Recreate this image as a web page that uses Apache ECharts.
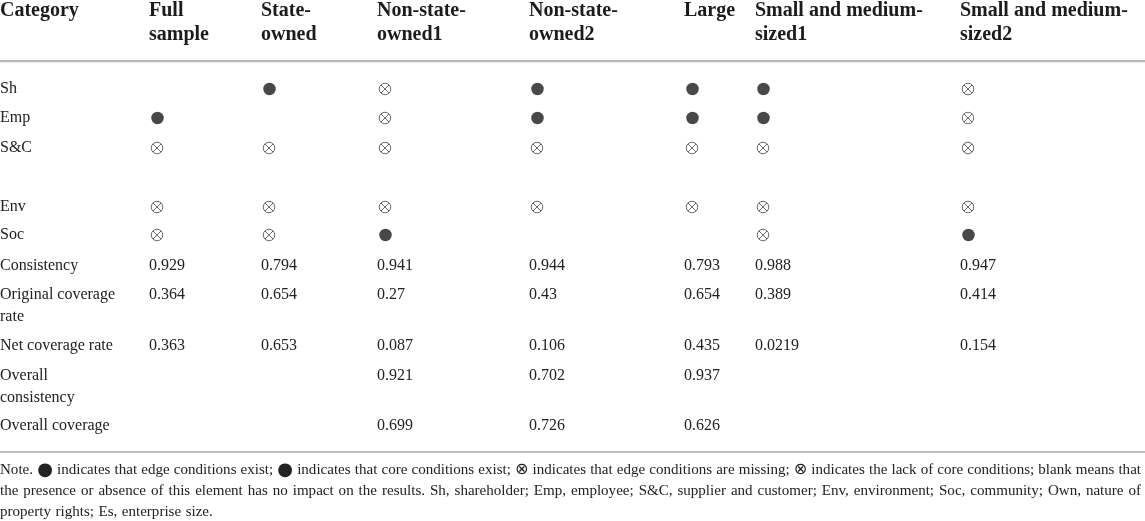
<!DOCTYPE html>
<html>
<head>
<meta charset="utf-8">
<script src="https://cdn.jsdelivr.net/npm/echarts@6/dist/echarts.min.js"></script>
<style>
  html, body { margin: 0; padding: 0; background: #fff; }
  #main { width: 1145px; height: 521px; }
</style>
</head>
<body>
<div id="main"></div>
<script>
var chart = echarts.init(document.getElementById('main'));

// table content
var headers = ['Category', 'Full\nsample', 'State-\nowned', 'Non-state-\nowned1', 'Non-state-\nowned2', 'Large', 'Small and medium-\nsized1', 'Small and medium-\nsized2'];
var rowNames = ['Sh', 'Emp', 'S&C', 'Env', 'Soc', 'Consistency', 'Original coverage\nrate', 'Net coverage rate', 'Overall\nconsistency', 'Overall coverage'];

// C = core condition exists, X = condition missing, '' = no impact
var Sh  = ['',  'C', 'X', 'C', 'C', 'C', 'X'];
var Emp = ['C', '',  'X', 'C', 'C', 'C', 'X'];
var SC  = ['X', 'X', 'X', 'X', 'X', 'X', 'X'];
var Env = ['X', 'X', 'X', 'X', 'X', 'X', 'X'];
var Soc = ['X', 'X', 'C', '',  '',  'X', 'C'];

var consistency = [0.929, 0.794, 0.941, 0.944, 0.793, 0.988, 0.947];
var originalCoverage = [0.364, 0.654, 0.27, 0.43, 0.654, 0.389, 0.414];
var netCoverage = [0.363, 0.653, 0.087, 0.106, 0.435, 0.0219, 0.154];
var overallConsistency = [null, null, 0.921, 0.702, 0.937, null, null];
var overallCoverage = [null, null, 0.699, 0.726, 0.626, null, null];

var noteLines = [
  'Note. \u25CF indicates that edge conditions exist; \u25CF indicates that core conditions exist; \u2297 indicates that edge conditions are missing; \u2297 indicates the lack of core conditions; blank means that',
  'the presence or absence of this element has no impact on the results. Sh, shareholder; Emp, employee; S&C, supplier and customer; Env, environment; Soc, community; Own, nature of',
  'property rights; Es, enterprise size.'
];

// layout (pixels)
var colX = [0, 149, 261, 377, 529, 684, 755, 960];
var rowMid = [89, 118, 148, 207, 235, 266, 295, 346, 376, 426];
var FONT = "'Liberation Serif', 'DejaVu Serif', serif";
var ink = '#222';

var condRows = [Sh, Emp, SC, Env, Soc];
var numRows = [consistency, originalCoverage, netCoverage, overallConsistency, overallCoverage];

var coreDots = [], missDots = [];
condRows.forEach(function (row, r) {
  row.forEach(function (v, c) {
    if (v === 'C') coreDots.push([c + 1, r]);
    if (v === 'X') missDots.push([c + 1, r]);
  });
});

var bodyText = [];
rowNames.forEach(function (name, r) { bodyText.push([0, r, name]); });
numRows.forEach(function (row, i) {
  row.forEach(function (v, c) {
    if (v != null) bodyText.push([c + 1, i + 5, String(v)]);
  });
});
var headText = headers.map(function (h, c) { return [c, -1, h]; });

// justified note text, font fitted so the first line sits with normal spacing
var measure = document.createElement('canvas').getContext('2d');
var noteW = 1141;
function wordFont(w, size) {
  if (w === '\u25CF') return Math.round(size * 1.2) + "px 'DejaVu Sans'";
  if (w === '\u2297') return Math.round(size * 1.05) + "px 'DejaVu Sans'";
  return size + 'px ' + FONT;
}
function lineWidths(line, size) {
  return line.split(' ').map(function (w) { measure.font = wordFont(w, size); return measure.measureText(w).width; });
}
var noteSize = 14;
(function () {
  var ws = lineWidths(noteLines[0], 14);
  var nat = ws.reduce(function (a, b) { return a + b; }, 0) + (ws.length - 1) * 14 * 0.27;
  noteSize = Math.max(13, Math.min(15.5, 14 * noteW / nat));
})();

var noteEls = [];
noteLines.forEach(function (line, i) {
  var words = line.split(' ');
  var y = 470 + i * 21;
  var widths = lineWidths(line, noteSize);
  var sum = widths.reduce(function (a, b) { return a + b; }, 0);
  var gap = i < 2 ? (noteW - sum) / (words.length - 1) : noteSize * 0.3;
  var x = 0;
  words.forEach(function (w, k) {
    noteEls.push({
      type: 'text', x: x, y: y + (w === '\u25CF' ? 0.5 : 0),
      style: { text: w, font: wordFont(w, noteSize), fill: ink, verticalAlign: 'middle' }
    });
    x += widths[k] + gap;
  });
});

var crossPath = 'path://M0,5A5,5 0 1,1 10,5A5,5 0 1,1 0,5Z M1.5,1.5L8.5,8.5 M8.5,1.5L1.5,8.5';

option = {
  backgroundColor: '#fff',
  animation: false,
  grid: { left: 0, right: 0, top: 0, bottom: 0 },
  xAxis: { type: 'value', min: 0, max: 1145, show: false },
  yAxis: { type: 'value', min: 0, max: 521, inverse: true, show: false },
  graphic: [
    { type: 'rect', shape: { x: 0, y: 60, width: 1145, height: 2.2 }, style: { fill: '#b9b9b9' } },
    { type: 'rect', shape: { x: 0, y: 451, width: 1145, height: 1.8 }, style: { fill: '#b9b9b9' } }
  ].concat(noteEls),
  series: [
    {
      type: 'custom',
      coordinateSystem: 'cartesian2d',
      data: headText,
      renderItem: function (params, api) {
        var c = api.value(0);
        var p = api.coord([colX[c], 11 - 11.75]);
        return {
          type: 'text', x: p[0], y: p[1],
          style: {
            text: headers[c], font: 'bold 20px ' + FONT, fill: '#1c1c1c',
            lineHeight: 23.5, verticalAlign: 'top'
          }
        };
      }
    },
    {
      type: 'custom',
      coordinateSystem: 'cartesian2d',
      data: bodyText,
      renderItem: function (params, api) {
        var c = api.value(0), r = api.value(1);
        var p = api.coord([colX[c], rowMid[r] - 10.75]);
        return {
          type: 'text', x: p[0], y: p[1],
          style: {
            text: bodyText[params.dataIndex][2], font: '16px ' + FONT, fill: ink,
            lineHeight: 21.5, verticalAlign: 'top'
          }
        };
      }
    },
    {
      type: 'scatter',
      symbol: 'circle',
      symbolSize: 12.5,
      itemStyle: { color: '#1a1a1a' },
      data: coreDots.map(function (d) { return [colX[d[0]] + 8.5, rowMid[d[1]]]; })
    },
    {
      type: 'scatter',
      symbol: crossPath,
      symbolSize: 11.5,
      itemStyle: { color: 'none', borderColor: '#333', borderWidth: 0.9 },
      data: missDots.map(function (d) { return [colX[d[0]] + 8, rowMid[d[1]]]; })
    }
  ]
};
chart.setOption(option);
</script>
</body>
</html>
